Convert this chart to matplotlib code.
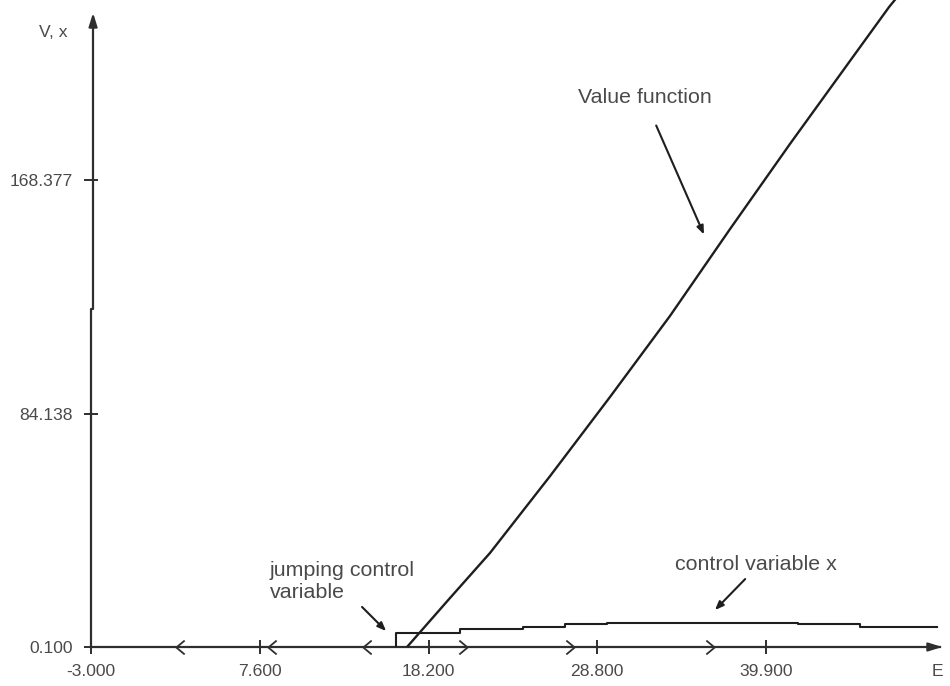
import numpy as np
import matplotlib.pyplot as plt
from matplotlib.path import Path

plt.rcParams['font.family'] = ['Liberation Sans', 'DejaVu Sans']

# value function V(E)
value_E = [16.85, 19.55, 22.06, 25.83, 29.60, 33.37, 37.14, 40.91, 44.68, 47.13, 47.50]
value_V = [0.1, 17.76, 33.97, 61.65, 90.19, 119.4, 150.7, 181.4, 211.3, 230.7, 233.3]

# control variable x(E), step shaped
ctrl_E = [16.16, 16.16, 20.18, 24.14, 26.77, 29.41, 41.41, 45.30, 50.14]
ctrl_V = [0.1, 5.15, 6.48, 7.31, 8.21, 8.86, 8.21, 7.20, 7.20]

# direction chevrons on the E axis
left_E = [2.59, 8.37, 14.34]
right_E = [20.37, 27.09, 35.88]

xtick_pos = [-3.0, 7.6, 18.2, 28.8, 39.4, 50.14]
xtick_lab = ['-3.000', '7.600', '18.200', '28.800', '39.900', 'E']
ytick_pos = [0.1, 84.138, 168.377]
ytick_lab = ['0.100', '84.138', '168.377']

txt = '#4a4a4a'
ink = '#1e1e1e'

fig = plt.figure(figsize=(9.5, 6.86), dpi=100)
ax = fig.add_axes([91/950, 39/686, (945-91)/950, 647/686])
ax.set_xlim(-3, 50.64)
ax.set_ylim(0.1, 233.2)
for s in ax.spines.values():
    s.set_visible(False)

# axes drawn by hand (y axis has a small jog like the original)
ax.plot([-3, 50.3], [0.1, 0.1], color='#2e2e2e', lw=1.6, clip_on=False)
ax.annotate('', xy=(50.64, 0.1), xytext=(49.5, 0.1),
            arrowprops=dict(arrowstyle='-|>,head_length=0.8,head_width=0.25',
                            color='#2e2e2e', lw=1.6), annotation_clip=False)
ax.plot([-3, -3, -2.87, -2.87], [0.1, 121.9, 121.9, 226], color='#2e2e2e', lw=1.6,
        clip_on=False)
ax.annotate('', xy=(-2.87, 229.6), xytext=(-2.87, 222),
            arrowprops=dict(arrowstyle='-|>,head_length=0.8,head_width=0.25',
                            color='#2e2e2e', lw=1.6), annotation_clip=False)

ax.set_xticks(xtick_pos[:-1], xtick_lab[:-1])
ax.set_yticks(ytick_pos, ytick_lab)
ax.tick_params(axis='both', direction='inout', length=10.5, width=1.4,
               color='#2e2e2e', labelcolor=txt, labelsize=12.6)
ax.tick_params(axis='x', pad=7)
ax.tick_params(axis='y', pad=8)
ax.text(xtick_pos[-1], -8.6, xtick_lab[-1], ha='center', va='center',
        fontsize=12.6, color=txt, clip_on=False)
ax.text(-5.4, 221.5, 'V, x', ha='center', va='center', fontsize=12.6, color=txt,
        clip_on=False)

# curves
ax.plot(value_E, value_V, color=ink, lw=1.7)
ax.plot(ctrl_E, ctrl_V, color=ink, lw=1.5, drawstyle='steps-post')

chev_l = Path([(0.6, 1), (-0.6, 0), (0.6, -1)])
chev_r = Path([(-0.6, 1), (0.6, 0), (-0.6, -1)])
ax.plot(left_E, [0.1]*len(left_E), ls='none', marker=chev_l, ms=10,
        mfc='none', mec='#2e2e2e', mew=1.3, clip_on=False)
ax.plot(right_E, [0.1]*len(right_E), ls='none', marker=chev_r, ms=10,
        mfc='none', mec='#2e2e2e', mew=1.3, clip_on=False)

# annotations
arr = dict(arrowstyle='-|>,head_length=0.5,head_width=0.2', color=ink, lw=1.5)
ax.annotate('', xy=(35.57, 147.8), xytext=(32.43, 188.9), arrowprops=arr)
ax.annotate('', xy=(15.66, 5.15), xytext=(13.90, 15.24), arrowprops=arr)
ax.annotate('', xy=(36.07, 12.7), xytext=(38.21, 25.3), arrowprops=arr)

ax.text(27.59, 197.9, 'Value function', fontsize=15.4, color=txt, va='center')
ax.text(33.68, 29.65, 'control variable x', fontsize=15.4, color=txt, va='center')
ax.text(8.24, 23.7, 'jumping control\nvariable', fontsize=15.4, color=txt,
        va='center', linespacing=1.15)

plt.savefig('out.png', dpi=100)
plt.close()
